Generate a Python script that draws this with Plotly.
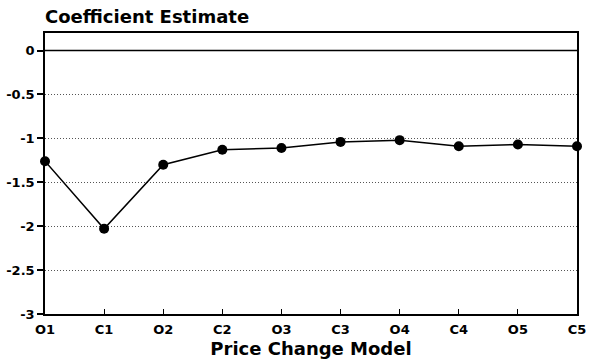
import plotly.graph_objects as go

models = ["O1", "C1", "O2", "C2", "O3", "C3", "O4", "C4", "O5", "C5"]
coef = [-1.26, -2.03, -1.30, -1.13, -1.11, -1.04, -1.02, -1.09, -1.07, -1.09]
y_ticks = [0, -0.5, -1, -1.5, -2, -2.5, -3]
y_tick_text = ["0", "-0.5", "-1", "-1.5", "-2", "-2.5", "-3"]

FONT = "DejaVu Sans, Verdana, sans-serif"

fig = go.Figure()
fig.add_trace(go.Scatter(
    x=models, y=coef, mode="lines+markers",
    line=dict(color="black", width=1.5),
    marker=dict(color="black", size=10),
    cliponaxis=False, showlegend=False,
))

fig.add_hline(y=0, line=dict(color="black", width=1.5))

fig.update_layout(
    width=593, height=361,
    margin=dict(l=45, r=16, t=33, b=47),
    paper_bgcolor="white", plot_bgcolor="white",
    font=dict(family=FONT, color="black"),
    annotations=[dict(
        text="<b>Coefficient Estimate</b>", xref="paper", yref="paper",
        x=0, y=1, xanchor="left", yanchor="bottom", yshift=4, xshift=-2,
        showarrow=False, font=dict(size=18, family=FONT, color="black"),
    )],
)

fig.update_xaxes(
    type="category", categoryorder="array", categoryarray=models,
    range=[0, 9], automargin=False,
    tickvals=models, ticktext=["<b>%s</b>" % m for m in models],
    tickfont=dict(size=13, family=FONT), ticks="inside", ticklen=5,
    tickcolor="black", tickwidth=1, ticklabelstandoff=3,
    showline=True, linecolor="black", linewidth=1.5, mirror=True,
    showgrid=False, zeroline=False,
    title=dict(text="<b>Price Change Model</b>", font=dict(size=18, family=FONT), standoff=6),
)

fig.update_yaxes(
    range=[-3, 0.2], automargin=False,
    tickvals=y_ticks, ticktext=["<b>%s</b>" % t for t in y_tick_text],
    tickfont=dict(size=13, family=FONT), ticks="outside", ticklen=6,
    tickcolor="black", tickwidth=1.5,
    showline=True, linecolor="black", linewidth=1.5, mirror=True,
    showgrid=True, gridcolor="#555", gridwidth=1, griddash="1px,2px",
    zeroline=False,
)

fig.write_html("out.html", config={"displayModeBar": False},
               post_script="document.body.style.margin='0';")
